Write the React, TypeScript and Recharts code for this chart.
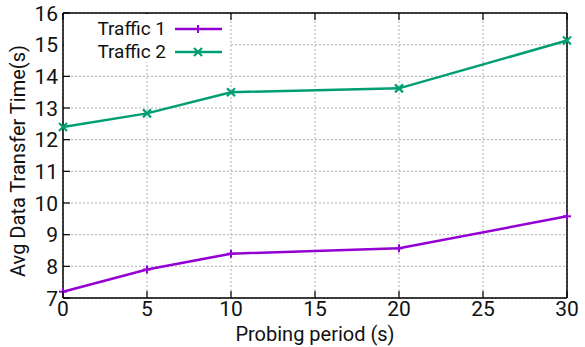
import {
  LineChart,
  Line,
  XAxis,
  YAxis,
  CartesianGrid,
} from "recharts";

const periods = [0, 5, 10, 20, 30];
const traffic1 = [7.2, 7.9, 8.4, 8.57, 9.58];
const traffic2 = [12.4, 12.83, 13.5, 13.62, 15.13];
const xTicks = [0, 5, 10, 15, 20, 25, 30];
const yTicks = [7, 8, 9, 10, 11, 12, 13, 14, 15, 16];

const PURPLE = "#9400d3";
const GREEN = "#009e73";
const FONT = "Roboto, 'DejaVu Sans', sans-serif";

const data = periods.map((p, i) => ({
  period: p,
  t1: traffic1[i],
  t2: traffic2[i],
}));

const Plus = ({ cx, cy, color }: any) => (
  <g stroke={color} strokeWidth={2}>
    <line x1={cx - 4} y1={cy} x2={cx + 4} y2={cy} />
    <line x1={cx} y1={cy - 4} x2={cx} y2={cy + 4} />
  </g>
);

const Cross = ({ cx, cy, color }: any) => (
  <g stroke={color} strokeWidth={2.2}>
    <line x1={cx - 4} y1={cy - 4} x2={cx + 4} y2={cy + 4} />
    <line x1={cx - 4} y1={cy + 4} x2={cx + 4} y2={cy - 4} />
  </g>
);

const BottomTick = ({ x, y, payload }: any) => (
  <g>
    <line x1={x} y1={y} x2={x} y2={y - 7} stroke="#000" strokeWidth={1.2} />
    <text x={x} y={y + 18} textAnchor="middle" fontSize={21} fill="#111" fontFamily={FONT}>
      {payload.value}
    </text>
  </g>
);

const LeftTick = ({ x, y, payload }: any) => (
  <g>
    <line x1={x} y1={y} x2={x + 7} y2={y} stroke="#000" strokeWidth={1.2} />
    <text x={x - 5} y={y + 7.5} textAnchor="end" fontSize={21} fill="#111" fontFamily={FONT}>
      {payload.value}
    </text>
  </g>
);

const TopTick = ({ x, y }: any) => (
  <line x1={x} y1={y} x2={x} y2={y + 7} stroke="#000" strokeWidth={1.2} />
);

const RightTick = ({ x, y }: any) => (
  <line x1={x} y1={y} x2={x - 7} y2={y} stroke="#000" strokeWidth={1.2} />
);

const LegendBox = () => {
  const rows = [
    { name: "Traffic 1", color: PURPLE, Mark: Plus },
    { name: "Traffic 2", color: GREEN, Mark: Cross },
  ];
  return (
    <div
      style={{
        position: "absolute",
        left: 64,
        top: 14,
        background: "#fff",
        width: 165,
        height: 48,
        fontFamily: FONT,
      }}
    >
      {rows.map((r, i) => (
        <div key={r.name} style={{ position: "absolute", top: 4 + i * 23, left: 0, width: 165, height: 22 }}>
          <span style={{ position: "absolute", right: 63, top: 0, fontSize: 19, lineHeight: "22px", color: "#111", whiteSpace: "nowrap" }}>
            {r.name}
          </span>
          <svg style={{ position: "absolute", left: 110, top: 0 }} width={50} height={22}>
            <line x1={1} y1={11} x2={48} y2={11} stroke={r.color} strokeWidth={2.5} />
            <r.Mark cx={24} cy={11} color={r.color} />
          </svg>
        </div>
      ))}
    </div>
  );
};

export default function App() {
  return (
    <div style={{ position: "absolute", left: 0, top: 0, width: 585, height: 347, background: "#fff" }}>
      <LineChart
        width={585}
        height={347}
        data={data}
        margin={{ top: 12, right: 17, bottom: 48, left: 62 }}
        style={{ fontFamily: FONT }}
      >
        <CartesianGrid stroke="#b0b0b0" strokeDasharray="2 2" strokeWidth={1} />
        <XAxis
          dataKey="period"
          type="number"
          domain={[0, 30]}
          ticks={xTicks}
          height={1}
          tickSize={0}
          tickMargin={0}
          tickLine={false}
          tick={<BottomTick />}
          axisLine={{ stroke: "#000", strokeWidth: 1.5 }}
          label={{
            content: () => (
              <text x={315} y={341} textAnchor="middle" fontSize={20} fill="#111" fontFamily={FONT}>
                Probing period (s)
              </text>
            ),
          }}
        />
        <XAxis
          xAxisId="t"
          orientation="top"
          dataKey="period"
          type="number"
          domain={[0, 30]}
          ticks={xTicks}
          height={1}
          tickSize={0}
          tickMargin={0}
          tickLine={false}
          tick={<TopTick />}
          axisLine={{ stroke: "#000", strokeWidth: 1.5 }}
        />
        <YAxis
          type="number"
          domain={[7, 16]}
          ticks={yTicks}
          width={1}
          tickSize={0}
          tickMargin={0}
          tickLine={false}
          tick={<LeftTick />}
          axisLine={{ stroke: "#000", strokeWidth: 1.5 }}
          label={{
            content: () => (
              <text
                x={25}
                y={161}
                textAnchor="middle"
                fontSize={20}
                fill="#111"
                fontFamily={FONT}
                transform="rotate(-90 25 161)"
              >
                Avg Data Transfer Time(s)
              </text>
            ),
          }}
        />
        <YAxis
          yAxisId="r"
          orientation="right"
          type="number"
          domain={[7, 16]}
          ticks={yTicks}
          width={1}
          tickSize={0}
          tickMargin={0}
          tickLine={false}
          tick={<RightTick />}
          axisLine={{ stroke: "#000", strokeWidth: 1.5 }}
        />
        <Line
          dataKey="t1"
          name="Traffic 1"
          stroke={PURPLE}
          strokeWidth={2.5}
          dot={(p: any) => <Plus key={p.index} cx={p.cx} cy={p.cy} color={PURPLE} />}
          isAnimationActive={false}
        />
        <Line
          dataKey="t2"
          name="Traffic 2"
          stroke={GREEN}
          strokeWidth={2.5}
          dot={(p: any) => <Cross key={p.index} cx={p.cx} cy={p.cy} color={GREEN} />}
          isAnimationActive={false}
        />
      </LineChart>
      <LegendBox />
    </div>
  );
}
